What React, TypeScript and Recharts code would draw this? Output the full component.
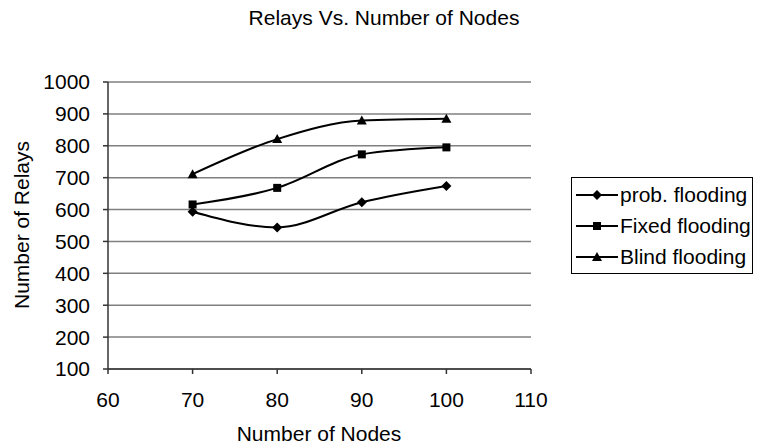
import React from 'react';
import { LineChart, Line, XAxis, YAxis, CartesianGrid } from 'recharts';

// values
const nodes = [70, 80, 90, 100];
const probFlooding = [593, 544, 623, 674];
const fixedFlooding = [616, 668, 773, 795];
const blindFlooding = [711, 821, 879, 885];
const xTicks = [60, 70, 80, 90, 100, 110];
const yTicks = [100, 200, 300, 400, 500, 600, 700, 800, 900, 1000];

const data = nodes.map((n, i) => ({
  nodes: n,
  prob: probFlooding[i],
  fixed: fixedFlooding[i],
  blind: blindFlooding[i],
}));

const FONT = '"Liberation Sans", Arial, sans-serif';

const Marker = ({ shape, cx, cy }: { shape: string; cx: number; cy: number }) => {
  if (shape === 'diamond') {
    return <polygon points={`${cx},${cy - 5} ${cx + 5},${cy} ${cx},${cy + 5} ${cx - 5},${cy}`} fill="#000" />;
  }
  if (shape === 'square') {
    return <rect x={cx - 4} y={cy - 4} width={8} height={8} fill="#000" />;
  }
  return <polygon points={`${cx},${cy - 5} ${cx + 5},${cy + 4} ${cx - 5},${cy + 4}`} fill="#000" />;
};

const dotFor = (shape: string) => (props: any) => (
  <Marker key={`${shape}-${props.index}`} shape={shape} cx={props.cx} cy={props.cy} />
);

const series = [
  { key: 'prob', name: 'prob. flooding', shape: 'diamond' },
  { key: 'fixed', name: 'Fixed flooding', shape: 'square' },
  { key: 'blind', name: 'Blind flooding', shape: 'triangle' },
];

const LegendBox = () => (
  <div
    style={{
      position: 'absolute',
      left: 571,
      top: 177,
      border: '1px solid #000',
      width: 182,
      height: 97,
      boxSizing: 'border-box',
      padding: '1px 0 0 4px',
      fontSize: 21,
      color: '#000',
      background: '#fff',
    }}
  >
    {series.map((s) => (
      <div key={s.key} style={{ display: 'flex', alignItems: 'center', height: 31 }}>
        <svg width={42} height={12} style={{ marginRight: 2 }}>
          <line x1={0} y1={6} x2={42} y2={6} stroke="#000" strokeWidth={2} />
          <Marker shape={s.shape} cx={21} cy={6} />
        </svg>
        <span style={{ whiteSpace: 'nowrap' }}>{s.name}</span>
      </div>
    ))}
  </div>
);

const tickStyle = { fontSize: 21, fill: '#000', fontFamily: FONT };

export default function App() {
  return (
    <div style={{ position: 'absolute', left: 0, top: 0, width: 758, height: 448, background: '#fff', fontFamily: FONT }}>
      <LineChart width={758} height={448} data={data} margin={{ top: 82, right: 227, bottom: 29, left: 48 }}>
        <CartesianGrid horizontal vertical={false} stroke="#808080" strokeWidth={1.5} />
        <XAxis
          dataKey="nodes"
          type="number"
          domain={[60, 110]}
          ticks={xTicks}
          interval={0}
          height={50}
          tick={tickStyle}
          tickSize={5}
          tickMargin={18}
          axisLine={{ stroke: '#333', strokeWidth: 1.5 }}
          tickLine={{ stroke: '#333', strokeWidth: 1.5 }}
        />
        <YAxis
          type="number"
          domain={[100, 1000]}
          ticks={yTicks}
          interval={0}
          width={60}
          tick={tickStyle}
          tickSize={5}
          tickMargin={13}
          axisLine={{ stroke: '#333', strokeWidth: 1.5 }}
          tickLine={{ stroke: '#333', strokeWidth: 1.5 }}
        />
        {series.map((s) => (
          <Line
            key={s.key}
            dataKey={s.key}
            name={s.name}
            type="monotone"
            stroke="#000"
            strokeWidth={2}
            dot={dotFor(s.shape)}
            activeDot={false}
            isAnimationActive={false}
          />
        ))}
      </LineChart>
      <div style={{ position: 'absolute', left: 0, width: 768, top: 6, textAlign: 'center', fontSize: 21, color: '#000' }}>
        Relays Vs. Number of Nodes
      </div>
      <div style={{ position: 'absolute', left: 0, width: 638, top: 422, textAlign: 'center', fontSize: 21, color: '#000' }}>
        Number of Nodes
      </div>
      <div
        style={{
          position: 'absolute',
          left: 22,
          top: 225,
          transform: 'translate(-50%, -50%) rotate(-90deg)',
          whiteSpace: 'nowrap',
          fontSize: 21,
          color: '#000',
        }}
      >
        Number of Relays
      </div>
      <LegendBox />
    </div>
  );
}
